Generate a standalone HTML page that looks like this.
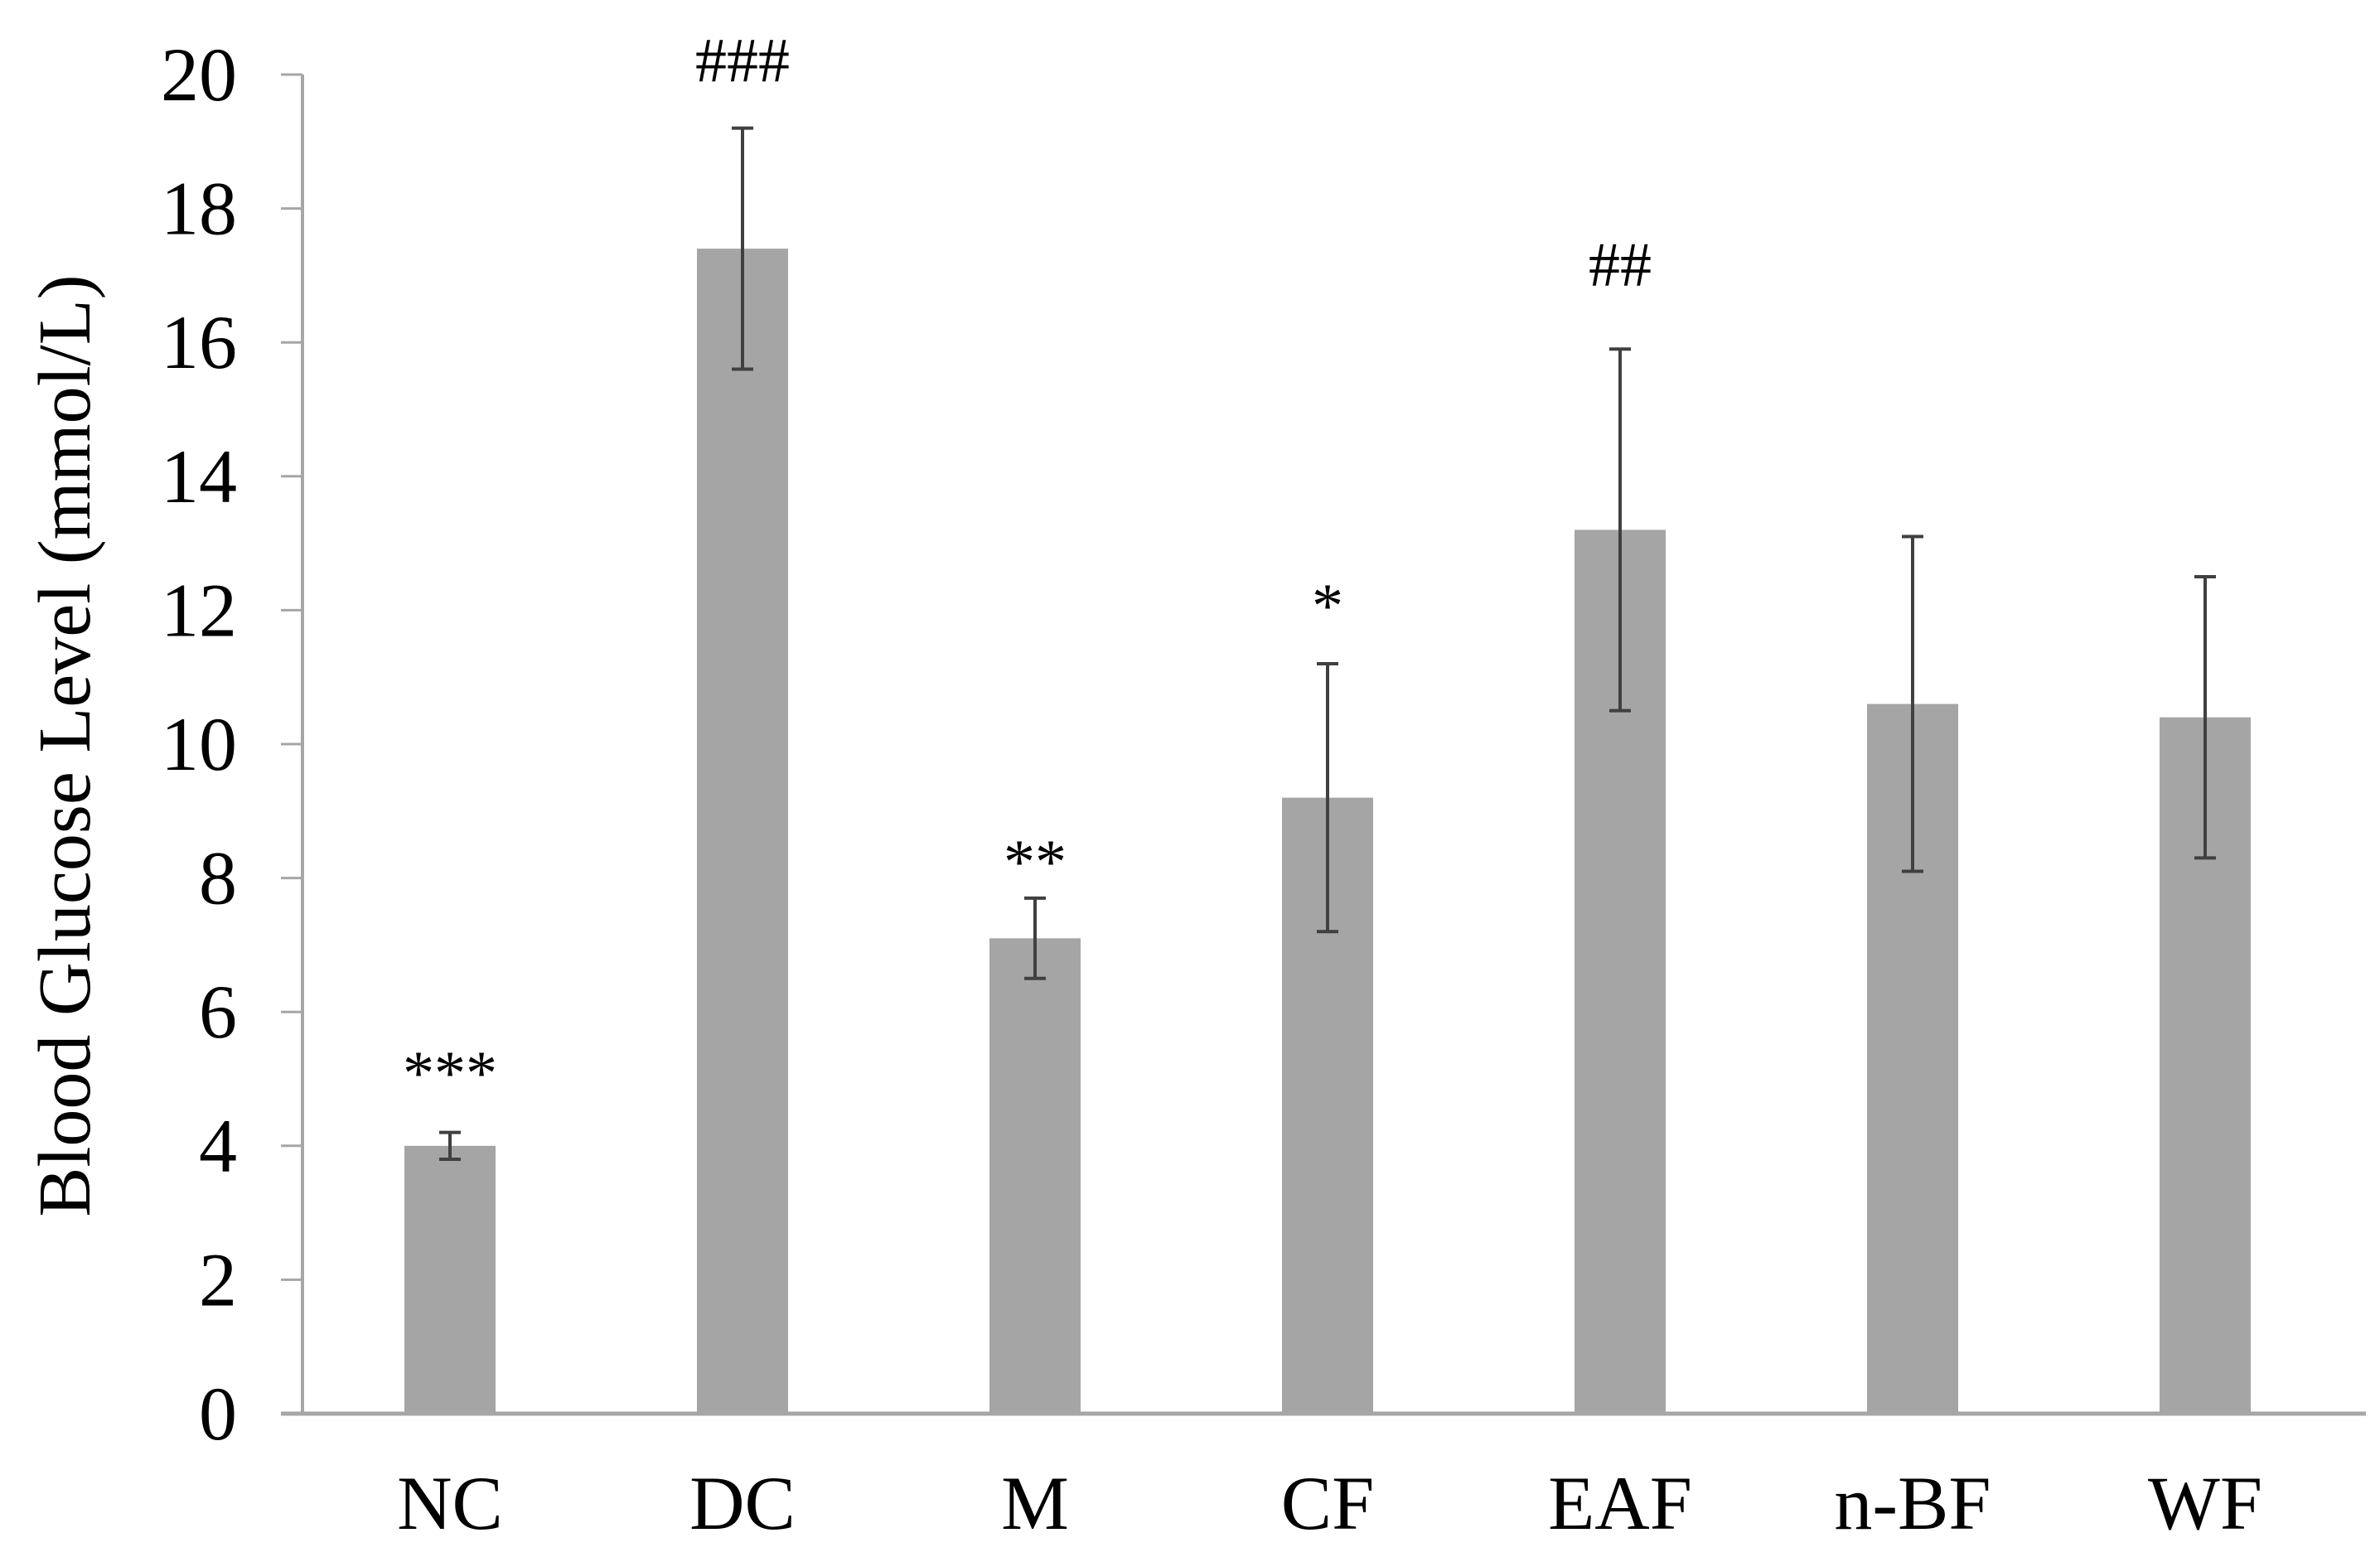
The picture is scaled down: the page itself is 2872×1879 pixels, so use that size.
<!DOCTYPE html>
<html><head><meta charset="utf-8"><style>
html,body{margin:0;padding:0;background:#fff;}
svg{display:block;}
text{font-family:"Liberation Serif",serif;fill:#000;}
</style></head><body>
<svg id="chart" width="2872" height="1879" viewBox="0 0 2872 1879" xmlns="http://www.w3.org/2000/svg">
<text x="0" y="0" transform="translate(108,900) rotate(-90)" text-anchor="middle" font-size="90">Blood Glucose Level (mmol/L)</text>
<g id="plot"></g>
</svg>
<script>
const categories = ["NC","DC","M","CF","EAF","n-BF","WF"];
const values = [4.0,17.4,7.1,9.2,13.2,10.6,10.4];
const errors = [0.2,1.8,0.6,2.0,2.7,2.5,2.1];
const annotations = ["***","###","**","*","##","",""];
const annotationLevels = [4.77,19.9,7.93,11.75,16.85,0,0];
const yTicks = [0,2,4,6,8,10,12,14,16,18,20];

const NS="http://www.w3.org/2000/svg";
const g=document.getElementById('plot');
const X0=365, X1=2855, Y0=1706, YTOP=90, YMAX=20;
const FIRST=543, STEP=353;
const yS=v=>Y0-(v/YMAX)*(Y0-YTOP);
const xS=i=>FIRST+i*STEP;
function mk(tag,attrs){const e=document.createElementNS(NS,tag);for(const k in attrs)e.setAttribute(k,attrs[k]);g.appendChild(e);return e;}
const AX="#a6a6a6", BAR="#a5a5a5", ERR="#404040";
yTicks.forEach(t=>{
  const y=yS(t);
  const tk=mk('line',{x1:X0-26,x2:X0,y1:y,y2:y,stroke:AX,'stroke-width':3});
  
  
  const lb=mk('text',{x:286,y:y+31,'text-anchor':'end','font-size':92});
  lb.textContent=t;
  
  
});
categories.forEach((c,i)=>{
  const cx=xS(i), bw=110;
  const r=mk('rect',{x:cx-bw/2,y:yS(values[i]),width:bw,height:Y0-yS(values[i]),fill:BAR});
  
  
  const hi=yS(values[i]+errors[i]), lo=yS(values[i]-errors[i]);
  const eg=document.createElementNS(NS,'g');
  
  
  g.appendChild(eg);
  [[cx,hi,cx,lo],[cx-13,hi,cx+13,hi],[cx-13,lo,cx+13,lo]].forEach(p=>{
    const l=document.createElementNS(NS,'line');
    l.setAttribute('x1',p[0]);l.setAttribute('y1',p[1]);l.setAttribute('x2',p[2]);l.setAttribute('y2',p[3]);
    l.setAttribute('stroke',ERR);l.setAttribute('stroke-width',4);
    eg.appendChild(l);
  });
  const lb=mk('text',{x:cx,y:1845,'text-anchor':'middle','font-size':92});
  lb.textContent=c;
  
  
  if(annotations[i]){
    const a=mk('text',{x:cx,y:yS(annotationLevels[i]),'text-anchor':'middle','font-size':76});
    a.textContent=annotations[i];
    
    
  }
});
const ya=mk('line',{x1:X0,x2:X0,y1:YTOP,y2:Y0,stroke:AX,'stroke-width':4});


const xa=mk('line',{x1:X0-26,x2:X1,y1:Y0,y2:Y0,stroke:AX,'stroke-width':5});


</script>
</body></html>
